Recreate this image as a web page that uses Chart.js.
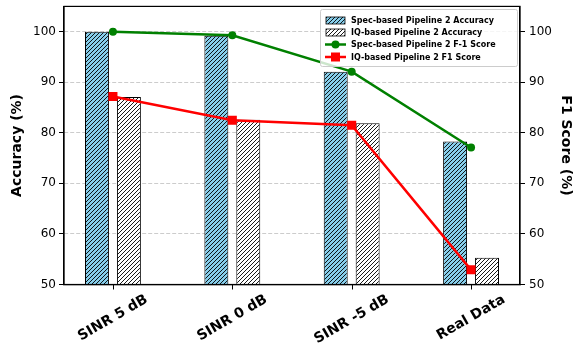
<!DOCTYPE html>
<html>
<head>
<meta charset="utf-8">
<script src="https://cdn.jsdelivr.net/npm/chart.js@4.4.1/dist/chart.umd.min.js"></script>
<style>
  html, body { margin: 0; padding: 0; background: #fff; }
  #wrap { width: 573px; height: 343px; }
</style>
</head>
<body>
<div id="wrap"><canvas id="perfChart" width="573" height="343"></canvas></div>
<script>
// categories and values
var categories = ['SINR 5 dB', 'SINR 0 dB', 'SINR -5 dB', 'Real Data'];
var specAccuracy = [100, 99.2, 92.1, 78.3];
var iqAccuracy = [87.1, 82.6, 81.9, 55.3];
var specF1 = [100, 99.3, 92.1, 77.1];
var iqF1 = [87.2, 82.5, 81.5, 52.9];
var yTicks = [50, 60, 70, 80, 90, 100];

var legendNames = [
	'Spec-based Pipeline 2 Accuracy',
	'IQ-based Pipeline 2 Accuracy',
	'Spec-based Pipeline 2 F-1 Score',
	'IQ-based Pipeline 2 F1 Score'
];

function hatch(bg){
	var c = document.createElement('canvas');
	c.width = 4; c.height = 4;
	var g = c.getContext('2d');
	g.fillStyle = bg;
	g.fillRect(0, 0, 4, 4);
	g.strokeStyle = '#000';
	g.lineWidth = 0.9;
	g.beginPath();
	g.moveTo(-1, 5); g.lineTo(5, -1);
	g.moveTo(-1, 1); g.lineTo(1, -1);
	g.moveTo(3, 5); g.lineTo(5, 3);
	g.stroke();
	return g.createPattern(c, 'repeat');
}

var bluePat = hatch('#87ceeb');
var whitePat = hatch('#ffffff');

function pts(arr){
	return arr.map(function(v, i){ return {x: i, y: v}; });
}

var font = 'DejaVu Sans';

function noPad(s, w){
	s.width = w;
	s.paddingTop = 0;
	s.paddingBottom = 0;
}

var framePlugin = {
	id: 'frame',
	afterDraw: function(chart){
		var ctx = chart.ctx;
		var a = chart.chartArea;
		var xs = chart.scales.x;
		ctx.save();
		ctx.strokeStyle = '#000';
		ctx.lineWidth = 1.2;
		ctx.strokeRect(a.left, a.top, a.right - a.left, a.bottom - a.top);

		// x tick marks + labels, rotated 30deg, centred under the tick (matplotlib style)
		ctx.lineWidth = 1;
		categories.forEach(function(lbl, i){
			var px = Math.round(xs.getPixelForValue(i)) + 0.5;
			ctx.beginPath();
			ctx.moveTo(px, a.bottom);
			ctx.lineTo(px, a.bottom + 5);
			ctx.stroke();
		});
		ctx.font = 'bold 14px "' + font + '"';
		ctx.fillStyle = '#000';
		ctx.textAlign = 'center';
		ctx.textBaseline = 'middle';
		var ang = 30 * Math.PI / 180;
		categories.forEach(function(lbl, i){
			var px = xs.getPixelForValue(i);
			var w = ctx.measureText(lbl).width;
			var h = 10.5;
			var H = w * Math.sin(ang) + h * Math.cos(ang);
			ctx.save();
			ctx.translate(px, a.bottom + 9.5 + H / 2);
			ctx.rotate(-ang);
			ctx.fillText(lbl, 0, 0);
			ctx.restore();
		});

		// legend box in the upper right
		var lx = 320, ly = 9, lw = 197, lh = 57;
		ctx.fillStyle = 'rgba(255,255,255,0.8)';
		ctx.strokeStyle = '#cccccc';
		ctx.lineWidth = 1;
		ctx.beginPath();
		ctx.roundRect(lx + 0.5, ly + 0.5, lw, lh, 2);
		ctx.fill();
		ctx.stroke();

		ctx.font = 'bold 8px "' + font + '"';
		ctx.textAlign = 'left';
		ctx.textBaseline = 'middle';
		var rows = [20, 32, 44.5, 57];
		rows.forEach(function(ry, i){
			if (i < 2){
				ctx.fillStyle = i == 0 ? bluePat : whitePat;
				ctx.fillRect(326, ry - 3, 19, 7);
				ctx.strokeStyle = '#000';
				ctx.lineWidth = 0.8;
				ctx.strokeRect(326, ry - 3, 19, 7);
			} else {
				var col = i == 2 ? '#008000' : '#ff0000';
				ctx.strokeStyle = col;
				ctx.lineWidth = 2.5;
				ctx.beginPath();
				ctx.moveTo(325, ry); ctx.lineTo(346, ry);
				ctx.stroke();
				ctx.fillStyle = col;
				if (i == 2){
					ctx.beginPath();
					ctx.arc(335.5, ry, 4, 0, Math.PI * 2);
					ctx.fill();
				} else {
					ctx.fillRect(331, ry - 4.5, 9, 9);
				}
			}
			ctx.fillStyle = '#000';
			ctx.fillText(legendNames[i], 351, ry + 0.5);
		});
		ctx.restore();
	}
};

var ctx = document.getElementById('perfChart');
var perfChart = new Chart(ctx, {
	type: 'bar',
	data: {
		datasets: [
			{
				type: 'bar',
				label: legendNames[0],
				data: pts(specAccuracy),
				backgroundColor: bluePat,
				borderColor: '#000',
				borderWidth: 1,
				categoryPercentage: 0.535,
				barPercentage: 0.75,
				yAxisID: 'y',
				order: 2
			},
			{
				type: 'bar',
				label: legendNames[1],
				data: pts(iqAccuracy),
				backgroundColor: whitePat,
				borderColor: '#000',
				borderWidth: 1,
				categoryPercentage: 0.535,
				barPercentage: 0.75,
				yAxisID: 'y',
				order: 2
			},
			{
				type: 'line',
				label: legendNames[2],
				data: pts(specF1),
				borderColor: '#008000',
				backgroundColor: '#008000',
				borderWidth: 2.5,
				pointRadius: 4,
				pointStyle: 'circle',
				pointBorderWidth: 0,
				yAxisID: 'y1',
				order: 1
			},
			{
				type: 'line',
				label: legendNames[3],
				data: pts(iqF1),
				borderColor: '#ff0000',
				backgroundColor: '#ff0000',
				borderWidth: 2.5,
				pointRadius: 6.4,
				pointStyle: 'rect',
				pointBorderWidth: 0,
				yAxisID: 'y1',
				order: 0
			}
		]
	},
	options: {
		responsive: false,
		animation: false,
		layout: { padding: { top: 6 } },
		plugins: {
			legend: { display: false },
			tooltip: { enabled: false }
		},
		scales: {
			x: {
				type: 'linear',
				offset: false,
				min: -0.41,
				max: 3.41,
				afterFit: function(s){ s.height = 58.5; s.paddingLeft = 0; s.paddingRight = 0; },
				afterBuildTicks: function(s){
					s.ticks = categories.map(function(c, i){ return {value: i}; });
				},
				ticks: { display: false },
				grid: { offset: false, drawOnChartArea: false, drawTicks: false },
				border: { color: '#000', width: 1.2 }
			},
			y: {
				position: 'left',
				min: 50,
				max: 105,
				afterFit: function(s){ noPad(s, 64); },
				afterBuildTicks: function(s){
					s.ticks = yTicks.map(function(v){ return {value: v}; });
				},
				ticks: { color: '#000', padding: 3, font: { family: font, size: 12 } },
				grid: { color: '#cccccc', lineWidth: 1, tickLength: 5, tickColor: '#000', tickWidth: 1, tickBorderDash: [] },
				border: { color: '#000', width: 1.2, dash: [4, 2] },
				title: {
					display: true,
					text: 'Accuracy (%)',
					color: '#000',
					padding: { top: 10, bottom: 0 },
					font: { family: font, size: 14, weight: 'bold', lineHeight: 1 }
				}
			},
			y1: {
				position: 'right',
				min: 50,
				max: 105,
				afterFit: function(s){ noPad(s, 53); },
				afterBuildTicks: function(s){
					s.ticks = yTicks.map(function(v){ return {value: v}; });
				},
				ticks: { color: '#000', padding: 4, font: { family: font, size: 12 } },
				grid: { drawOnChartArea: false, tickLength: 5, tickColor: '#000', tickWidth: 1 },
				border: { color: '#000', width: 1.2 },
				title: {
					display: true,
					text: 'F1 Score (%)',
					color: '#000',
					padding: { top: 0, bottom: 0 },
					font: { family: font, size: 14, weight: 'bold', lineHeight: 1 }
				}
			}
		}
	},
	plugins: [framePlugin]
});
</script>
</body>
</html>
